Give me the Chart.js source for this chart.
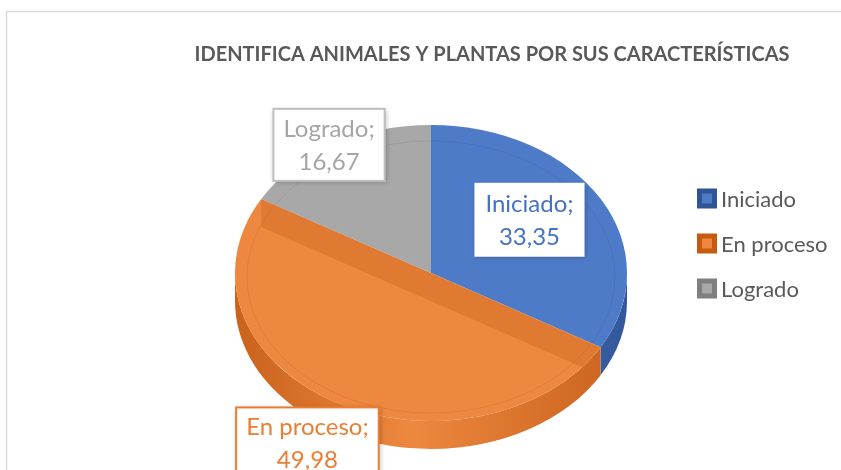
<!DOCTYPE html>
<html>
<head>
<meta charset="utf-8">
<script src="https://cdn.jsdelivr.net/npm/chart.js@4.4.1/dist/chart.umd.min.js"></script>
<style>
html, body { margin: 0; padding: 0; background: #fff; }
#wrap { width: 841px; height: 470px; }
</style>
</head>
<body>
<div id="wrap"><canvas id="pieChart" width="841" height="470"></canvas></div>
<script>
const titulo = 'IDENTIFICA ANIMALES Y PLANTAS POR SUS CARACTERÍSTICAS';
const categorias = ['Iniciado', 'En proceso', 'Logrado'];
const valores = [33.35, 49.98, 16.67];

const coloresCara = ['#4E7BC8', '#EE8840', '#A8A8A8'];
const coloresLado = ['#33579A', '#C8621C', '#878787'];
const coloresMarco = ['#2F5597', '#C55A11', '#7F7F7F'];
const coloresTexto = ['#4472C4', '#ED7D31', '#A5A5A5'];
const bordesEtiqueta = ['#FFFFFF', '#ED7D31', '#BFBFBF'];

const K = 148 / 196;   // aplastamiento del disco
const PROF = 28;       // grosor del pastel en px

// posicion de las etiquetas como fraccion del radio (x, y)
const posEtiquetas = [[0.58, 0.72], [1.26, 1.33], [1.04, 1.0]];

function fmt(v) {
    return v.toFixed(2).replace('.', ',');
}

const pie3d = {
    id: 'pie3d',
    beforeDraw(chart) {
        const ctx = chart.ctx;
        ctx.save();
        ctx.strokeStyle = '#D9D9D9';
        ctx.lineWidth = 1.5;
        ctx.strokeRect(6.5, 11.5, 900, 500);
        ctx.restore();
    },
    beforeDatasetsDraw(chart) {
        const ctx = chart.ctx;
        const arcs = chart.getDatasetMeta(0).data;
        const cx = arcs[0].x, cy = arcs[0].y, r = arcs[0].outerRadius;
        ctx.save();
        ctx.translate(cx, cy);
        ctx.scale(1, K);
        ctx.translate(-cx, -cy);
        const D = PROF / K;
        arcs.forEach((arc, i) => {
            const a0 = Math.max(arc.startAngle, 0);
            const a1 = Math.min(arc.endAngle, Math.PI);
            if (a1 <= a0) return;
            const g = ctx.createLinearGradient(cx - r, 0, cx + r, 0);
            g.addColorStop(0, coloresLado[i]);
            g.addColorStop(0.45, coloresCara[i]);
            g.addColorStop(1, coloresLado[i]);
            ctx.beginPath();
            ctx.arc(cx, cy, r, a0, a1);
            ctx.arc(cx, cy + D, r, a1, a0, true);
            ctx.closePath();
            ctx.fillStyle = g;
            ctx.fill();
        });
        // la transformacion sigue activa para que Chart.js dibuje la cara superior
    },
    afterDatasetsDraw(chart) {
        const ctx = chart.ctx;
        ctx.restore();
        const arcs = chart.getDatasetMeta(0).data;
        const cx = arcs[0].x, cy = arcs[0].y, r = arcs[0].outerRadius;
        const ry = r * K;

        // cara interior del corte, vista a traves del sector naranja
        const p1 = [cx + r * Math.cos(arcs[2].startAngle), cy + ry * Math.sin(arcs[2].startAngle)];
        const p2 = [cx + r * Math.cos(arcs[1].startAngle), cy + ry * Math.sin(arcs[1].startAngle)];
        ctx.save();
        ctx.beginPath();
        ctx.ellipse(cx, cy, r, ry, 0, 0, Math.PI * 2);
        ctx.clip();
        ctx.beginPath();
        ctx.moveTo(p1[0], p1[1]);
        ctx.lineTo(p2[0], p2[1]);
        ctx.lineTo(p2[0], p2[1] + PROF);
        ctx.lineTo(p1[0], p1[1] + PROF);
        ctx.closePath();
        ctx.fillStyle = 'rgba(190, 85, 15, 0.28)';
        ctx.fill();
        // bisel suave
        ctx.beginPath();
        ctx.ellipse(cx, cy + 4, r - 12, ry - 12, 0, 0, Math.PI * 2);
        ctx.strokeStyle = 'rgba(0, 0, 0, 0.07)';
        ctx.lineWidth = 1;
        ctx.stroke();
        ctx.restore();

        // etiquetas de datos
        ctx.save();
        ctx.font = '24px Lato';
        ctx.textAlign = 'center';
        ctx.textBaseline = 'middle';
        arcs.forEach((arc, i) => {
            const mid = (arc.startAngle + arc.endAngle) / 2;
            const lx = cx + r * posEtiquetas[i][0] * Math.cos(mid);
            const ly = cy + ry * posEtiquetas[i][1] * Math.sin(mid);
            const lines = [categorias[i] + ';', fmt(valores[i])];
            const w = Math.max(...lines.map(t => ctx.measureText(t).width)) + 20;
            const h = 72;
            ctx.save();
            ctx.shadowColor = 'rgba(0,0,0,0.3)';
            ctx.shadowBlur = 5;
            ctx.shadowOffsetX = 1;
            ctx.shadowOffsetY = 1;
            ctx.fillStyle = '#FFFFFF';
            ctx.fillRect(lx - w / 2, ly - h / 2, w, h);
            ctx.restore();
            ctx.strokeStyle = bordesEtiqueta[i];
            ctx.lineWidth = 2;
            ctx.strokeRect(lx - w / 2, ly - h / 2, w, h);
            ctx.fillStyle = coloresTexto[i];
            ctx.fillText(lines[0], lx, ly - 16);
            ctx.fillText(lines[1], lx, ly + 17);
        });
        ctx.restore();

        // leyenda
        ctx.save();
        ctx.font = '22px Lato';
        ctx.textAlign = 'left';
        ctx.textBaseline = 'middle';
        categorias.forEach((c, i) => {
            const y = 198.5 + i * 45;
            ctx.fillStyle = coloresMarco[i];
            ctx.fillRect(697, y - 10, 20, 20);
            ctx.fillStyle = coloresCara[i];
            ctx.fillRect(702, y - 5, 10, 10);
            ctx.fillStyle = '#595959';
            ctx.fillText(c, 721, y + 1);
        });

        // titulo
        ctx.font = 'bold 20px Lato';
        ctx.textAlign = 'center';
        ctx.fillStyle = '#595959';
        ctx.fillText(titulo, 492, 55);
        ctx.restore();
    }
};

const config = {
    type: 'pie',
    data: {
        labels: categorias,
        datasets: [{
            data: valores,
            backgroundColor: coloresCara,
            borderWidth: 0
        }]
    },
    options: {
        responsive: false,
        animation: false,
        events: [],
        layout: {
            padding: { left: 235, right: 214, top: 77, bottom: 1 }
        },
        plugins: {
            legend: { display: false },
            tooltip: { enabled: false },
            title: { display: false }
        }
    },
    plugins: [pie3d]
};

Promise.all([
    document.fonts.load('24px Lato'),
    document.fonts.load('bold 20px Lato')
]).catch(() => {}).then(() => {
    const ctx = document.getElementById('pieChart').getContext('2d');
    window.pieChart = new Chart(ctx, config);
});
</script>
</body>
</html>
